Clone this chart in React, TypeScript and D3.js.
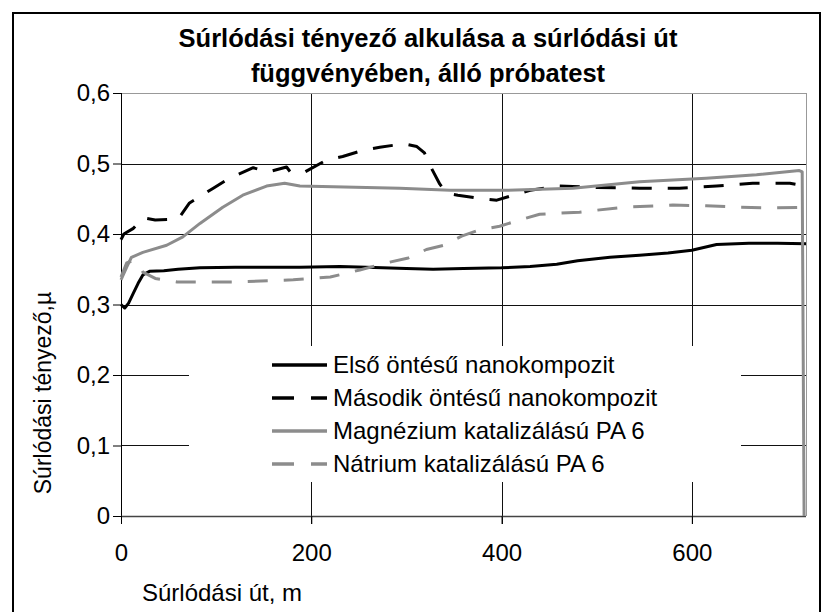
import * as d3 from "d3";
import React, { useEffect, useRef } from "react";

// x values (m) and friction coefficients
const elsoX = [0, 4, 8, 13, 18, 23, 30, 45, 60, 83, 120, 160, 188, 230, 258, 300, 328, 360, 400, 430, 458, 480, 514, 545, 575, 600, 626, 660, 690, 720];
const elsoY = [0.300, 0.295, 0.302, 0.316, 0.330, 0.342, 0.347, 0.348, 0.350, 0.352, 0.353, 0.353, 0.353, 0.354, 0.353, 0.351, 0.350, 0.351, 0.352, 0.354, 0.357, 0.362, 0.367, 0.370, 0.373, 0.377, 0.385, 0.387, 0.387, 0.386];

const masodikX = [0, 3, 13, 23, 36, 60, 72, 97, 114, 139, 155, 174, 178, 192, 216, 233, 255, 272, 297, 311, 319, 326, 335, 342, 354, 374, 395, 412, 430, 461, 500, 545, 587, 626, 664, 703, 720];
const masodikY = [0.392, 0.400, 0.408, 0.423, 0.420, 0.421, 0.444, 0.465, 0.479, 0.494, 0.488, 0.495, 0.488, 0.487, 0.505, 0.510, 0.519, 0.523, 0.528, 0.524, 0.515, 0.494, 0.471, 0.458, 0.455, 0.451, 0.448, 0.455, 0.462, 0.468, 0.466, 0.465, 0.465, 0.468, 0.472, 0.472, 0.468];

const magnX = [0, 6, 11, 23, 48, 65, 83, 107, 128, 153, 172, 188, 223, 293, 346, 405, 475, 545, 615, 668, 713, 716, 718];
const magnY = [0.335, 0.353, 0.367, 0.374, 0.384, 0.396, 0.415, 0.438, 0.455, 0.468, 0.472, 0.468, 0.467, 0.465, 0.462, 0.462, 0.465, 0.474, 0.479, 0.484, 0.490, 0.488, 0];

const natriumX = [0, 6, 12, 17, 23, 36, 59, 118, 181, 220, 251, 279, 302, 321, 339, 358, 377, 398, 419, 440, 482, 528, 580, 615, 650, 685, 720];
const natriumY = [0.339, 0.359, 0.362, 0.359, 0.346, 0.337, 0.332, 0.332, 0.335, 0.339, 0.349, 0.359, 0.366, 0.378, 0.384, 0.397, 0.406, 0.411, 0.420, 0.428, 0.431, 0.438, 0.441, 0.440, 0.438, 0.437, 0.438];

const seriesNames = [
  "Első öntésű nanokompozit",
  "Második öntésű nanokompozit",
  "Magnézium katalizálású PA 6",
  "Nátrium katalizálású PA 6",
];
const xTicks = [0, 200, 400, 600];
const yTicks = [0, 0.1, 0.2, 0.3, 0.4, 0.5, 0.6];
const titleLines = ["Súrlódási tényező alkulása a súrlódási út", "függvényében, álló próbatest"];
const xTitle = "Súrlódási út, m";
const yTitle = "Súrlódási tényező,µ";

const FONT = "Arial, 'Liberation Sans', sans-serif";

export default function App() {
  const svgRef = useRef(null);

  useEffect(() => {
    const svg = d3.select(svgRef.current);
    svg.selectAll("*").remove();

    const left = 121, right = 806, top = 93, bottom = 516;
    const x = d3.scaleLinear().domain([0, 720]).range([left, right]);
    const y = d3.scaleLinear().domain([0, 0.6]).range([bottom, top]);

    // outer chart frame
    svg.append("rect")
      .attr("x", 13).attr("y", 13)
      .attr("width", 807).attr("height", 700)
      .attr("fill", "white").attr("stroke", "black").attr("stroke-width", 2);

    // title
    titleLines.forEach((t, i) => {
      svg.append("text")
        .attr("x", 428).attr("y", 47 + i * 35)
        .attr("text-anchor", "middle")
        .attr("font-family", FONT).attr("font-size", 25.5).attr("font-weight", "bold")
        .text(t);
    });

    // gridlines
    const grid = svg.append("g").attr("shape-rendering", "crispEdges");
    yTicks.filter(v => v > 0 && v < 0.6).forEach(v => {
      grid.append("line")
        .attr("x1", left).attr("x2", right)
        .attr("y1", Math.round(y(v)) + 0.5).attr("y2", Math.round(y(v)) + 0.5)
        .attr("stroke", "#111").attr("stroke-width", 1);
    });
    xTicks.filter(v => v > 0).forEach(v => {
      grid.append("line")
        .attr("x1", Math.round(x(v)) + 0.5).attr("x2", Math.round(x(v)) + 0.5)
        .attr("y1", top).attr("y2", bottom + 8)
        .attr("stroke", "#111").attr("stroke-width", 1);
    });

    // plot-area border (top & right) in grey
    grid.append("path")
      .attr("d", `M${left},${top + 0.5}H${right + 0.5}V${bottom}`)
      .attr("fill", "none").attr("stroke", "#999").attr("stroke-width", 1.5);

    // y axis
    const yAxis = svg.append("g")
      .attr("transform", `translate(${left},0)`)
      .call(d3.axisLeft(y).tickValues(yTicks).tickSize(8).tickPadding(3)
        .tickFormat(d => d === 0 ? "0" : d3.format(".1f")(d).replace(".", ",")));
    yAxis.selectAll("text").attr("font-family", FONT).attr("font-size", 24).attr("fill", "black");
    yAxis.selectAll("line, path").attr("stroke", "black");
    yAxis.select(".domain").attr("d", `M0.5,${top}V${bottom}`);

    // x axis
    const xAxis = svg.append("g")
      .attr("transform", `translate(0,${bottom})`)
      .call(d3.axisBottom(x).tickValues(xTicks).tickSize(8).tickPadding(20).tickFormat(d3.format("d")));
    xAxis.selectAll("text").attr("font-family", FONT).attr("font-size", 24).attr("fill", "black");
    xAxis.selectAll("line").attr("stroke", "black");
    xAxis.select(".domain").attr("d", `M${left},0.5H${right}`).attr("stroke", "#444").attr("stroke-width", 1.5);

    // axis titles
    svg.append("text")
      .attr("x", 222).attr("y", 601)
      .attr("text-anchor", "middle")
      .attr("font-family", FONT).attr("font-size", 24)
      .text(xTitle);
    svg.append("text")
      .attr("transform", "translate(51,393) rotate(-90)")
      .attr("text-anchor", "middle")
      .attr("font-family", FONT).attr("font-size", 23)
      .text(yTitle);

    // series
    const line = d3.line()
      .x(d => x(d[0]))
      .y(d => y(d[1]));
    const series = [
      { xs: elsoX, ys: elsoY, color: "#000", dash: null },
      { xs: masodikX, ys: masodikY, color: "#000", dash: "20,16" },
      { xs: magnX, ys: magnY, color: "#8c8c8c", dash: null },
      { xs: natriumX, ys: natriumY, color: "#8c8c8c", dash: "20,16" },
    ];
    series.forEach(s => {
      svg.append("path")
        .datum(s.xs.map((v, i) => [v, s.ys[i]]))
        .attr("fill", "none")
        .attr("stroke", s.color)
        .attr("stroke-width", 3)
        .attr("stroke-linejoin", "round")
        .attr("stroke-dasharray", s.dash)
        .attr("d", line);
    });

    // legend
    const legend = svg.append("g");
    legend.append("rect")
      .attr("x", 189).attr("y", 346).attr("width", 552).attr("height", 136)
      .attr("fill", "white");
    series.forEach((s, i) => {
      const by = 373 + i * 33;
      legend.append("line")
        .attr("x1", 272).attr("x2", 327)
        .attr("y1", by - 8).attr("y2", by - 8)
        .attr("stroke", s.color).attr("stroke-width", 3.5)
        .attr("stroke-dasharray", s.dash ? "22,17" : null);
      legend.append("text")
        .attr("x", 333).attr("y", by)
        .attr("font-family", FONT).attr("font-size", 24)
        .text(seriesNames[i]);
    });
  }, []);

  return (
    <svg
      ref={svgRef}
      width={827}
      height={612}
      style={{ position: "absolute", left: 0, top: 0, background: "white" }}
    />
  );
}
